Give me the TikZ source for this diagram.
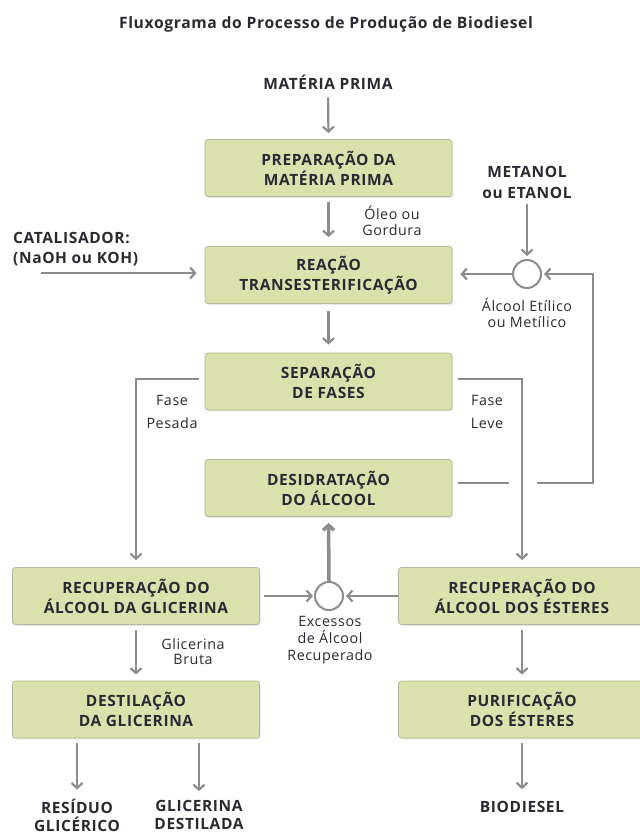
\documentclass[tikz,border=0pt]{standalone}
\usepackage{fontspec}
\setmainfont{Open Sans}
\newfontfamily\spaced[LetterSpace=4]{Open Sans}
\usetikzlibrary{arrows.meta,shadows}
\definecolor{boxfill}{RGB}{219,225,172}
\definecolor{boxline}{RGB}{180,184,152}
\definecolor{arr}{RGB}{140,140,140}
\definecolor{txt}{RGB}{42,42,52}
\begin{document}
\begin{tikzpicture}[x=1pt,y=-1pt,
 box/.style={draw=boxline, line width=0.8pt, fill=boxfill, rounded corners=3pt,
   minimum width=247pt, minimum height=57pt, align=center,
   font=\spaced\bfseries\fontsize{15.5}{20}\selectfont, text=txt, inner sep=0pt,
   drop shadow={shadow xshift=1.2pt, shadow yshift=-1.5pt, opacity=0.18}},
 lab/.style={align=center, font=\spaced\bfseries\fontsize{15.5}{20.5}\selectfont, text=txt, inner sep=0pt},
 note/.style={align=center, font=\spaced\fontsize{14.3}{16}\selectfont, text=txt, inner sep=0pt},
 line/.style={draw=arr, line width=2.2pt},
 arrow/.style={line, -{Straight Barb[length=5pt,width=11pt]}},
 circ/.style={circle, draw=arr, line width=2pt, minimum size=28pt, inner sep=0pt, fill=white}]
\path[use as bounding box, fill=white] (0,0) rectangle (639,834);

\node[lab, font=\spaced\bfseries\fontsize{15.7}{18}\selectfont] (title) at (326,24) {Fluxograma do Processo de Produção de Biodiesel};

\node[lab] (mp) at (328,82) {MATÉRIA PRIMA};
\node[box] (prep) at (328.5,168) {PREPARAÇÃO DA\\MATÉRIA PRIMA};
\node[box] (reac) at (328.5,275) {REAÇÃO\\TRANSESTERIFICAÇÃO};
\node[box] (sep) at (328.5,381.5) {SEPARAÇÃO\\DE FASES};
\node[box] (desid) at (328.5,488) {DESIDRATAÇÃO\\DO ÁLCOOL};
\node[box] (recL) at (136,596) {RECUPERAÇÃO DO\\ÁLCOOL DA GLICERINA};
\node[box] (destL) at (136,709.5) {DESTILAÇÃO\\DA GLICERINA};
\node[box] (recR) at (522,596) {RECUPERAÇÃO DO\\ÁLCOOL DOS ÉSTERES};
\node[box] (purR) at (522,709.5) {PURIFICAÇÃO\\DOS ÉSTERES};

\node[lab, align=left, anchor=west, font=\spaced\bfseries\fontsize{15.5}{20}\selectfont] (cat) at (13,249) {CATALISADOR:\\(NaOH ou KOH)};
\node[lab, font=\spaced\bfseries\fontsize{15.5}{21}\selectfont] (meta) at (527,182.5) {METANOL\\ou ETANOL};
\node[circ] (c1) at (527,274) {};
\node[circ] (c2) at (329,596) {};
\node[lab, font=\spaced\bfseries\fontsize{15.5}{18}\selectfont] (res) at (77,815) {RESÍDUO\\GLICÉRICO};
\node[lab, font=\spaced\bfseries\fontsize{15.5}{18}\selectfont] (glic) at (199,815) {GLICERINA\\DESTILADA};
\node[lab] (bio) at (522,807) {BIODIESEL};

\node[note] (oleo) at (392,221) {Óleo ou\\Gordura};
\node[note] (alc) at (527,313) {Álcool Etílico\\ou Metílico};
\node[note, font=\spaced\fontsize{14.3}{23}\selectfont] (fp) at (172,411.5) {Fase\\Pesada};
\node[note, font=\spaced\fontsize{14.3}{23}\selectfont] (fl) at (487,411.5) {Fase\\Leve};
\node[note, font=\spaced\fontsize{14.3}{17}\selectfont] (exc) at (330,640) {Excessos\\de Álcool\\Recuperado};
\node[note, font=\spaced\fontsize{14.3}{15}\selectfont] (gb) at (193,651.5) {Glicerina\\Bruta};

\coordinate (catS) at (41,273);
\coordinate (loopA) at (509,483);
\coordinate (loopB) at (537,483);
\coordinate (loopC) at (593,483);
\coordinate (loopD) at (593,274);

\draw[arrow, shorten <=8pt, shorten >=6pt] (mp.south) -- (prep.north);
\draw[arrow, shorten <=5pt, shorten >=9pt] (prep.south) -- (reac.north);
\draw[arrow, shorten <=7pt, shorten >=8pt] (reac.south) -- (sep.north);
\draw[arrow, shorten >=8pt] (catS) -- (catS -| reac.west);
\draw[arrow, shorten <=5pt, shorten >=3pt] (meta.south) -- (c1.north);
\draw[arrow, shorten >=8pt] (c1.west) -- (c1.west -| reac.east);
\draw[line] ([xshift=6pt]desid.east |- loopA) -- (loopA);
\draw[arrow, shorten >=2pt] (loopB) -- (loopC) -- (loopD) -- (c1.east);
\draw[arrow, shorten >=7pt] ([xshift=-6pt]sep.west |- 0,379) -| (recL.north);
\draw[arrow, shorten >=7pt] ([xshift=6pt]sep.east |- 0,379) -| (recR.north);
\draw[arrow, shorten <=4pt, shorten >=1pt] (recL.east |- c2) -- (c2.west);
\draw[arrow, shorten >=2pt] (recR.west |- c2) -- (c2.east);
\draw[arrow, line width=3.5pt, shorten >=6pt] (c2.north) -- (desid.south);
\draw[arrow, shorten <=5pt, shorten >=6pt] (recL.south) -- (destL.north);
\draw[arrow, shorten <=5pt, shorten >=6pt] (recR.south) -- (purR.north);
\draw[arrow, shorten <=5pt, shorten >=9pt] (destL.south -| res) -- (res.north);
\draw[arrow, shorten <=5pt, shorten >=9pt] (destL.south -| glic) -- (glic.north);
\draw[arrow, shorten <=5pt, shorten >=12pt] (purR.south) -- (bio.north);
\end{tikzpicture}
\end{document}
